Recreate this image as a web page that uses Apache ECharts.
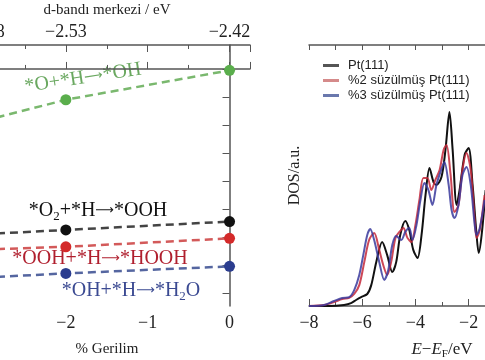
<!DOCTYPE html>
<html><head><meta charset="utf-8">
<script src="https://cdn.jsdelivr.net/npm/echarts@6/dist/echarts.min.js"></script>
<style>html,body{margin:0;padding:0;background:#fff}#c{width:485px;height:360px}</style>
</head><body><div id="c"></div>
<script>
// ---- Left panel data (strain %, reaction energy, arbitrary eV scale) ----
const strain = [-3, -2, 0];
const dBandLabels = ['−2.58', '−2.53', '−2.42'];
const eO_H = [-0.37, -0.22, -0.01];
const eO2_H = [-1.18, -1.15, -1.09];
const eOOH_H = [-1.29, -1.27, -1.21];
const eOH_H = [-1.49, -1.46, -1.41];
const leftYTicks = [-1.6, -1.4, -1.2, -1.0, -0.8, -0.6, -0.4, -0.2, 0.0];

// ---- Right panel data (E - EF, DOS a.u.) ----
const ePt = [-8.00,-7.25,-6.68,-6.42,-6.23,-6.04,-5.81,-5.66,-5.47,-5.25,-5.06,-4.87,-4.72,-4.57,-4.38,-4.23,-4.08,-3.92,-3.77,-3.62,-3.47,-3.32,-3.21,-3.02,-2.87,-2.72,-2.60,-2.45,-2.34,-2.15,-2.00,-1.85,-1.70,-1.62,-1.51,-1.36];
const dosPt = [0,0,0.04,0.11,0.23,0.34,0.46,0.8,1.69,2.45,1.95,1.3,1.69,2.72,3.26,2.91,2.15,1.84,2.72,4.25,5.29,4.75,4.64,4.94,5.98,7.43,5.98,3.87,4.44,5.79,6.05,4.64,2.72,2.03,2.72,4.44];
const eS2 = [-8.00,-7.43,-7.06,-6.75,-6.49,-6.30,-6.11,-5.92,-5.74,-5.55,-5.36,-5.21,-5.06,-4.91,-4.75,-4.60,-4.45,-4.30,-4.15,-4.00,-3.85,-3.70,-3.55,-3.40,-3.25,-3.09,-2.94,-2.83,-2.68,-2.53,-2.38,-2.23,-2.08,-1.92,-1.77,-1.70,-1.58,-1.40];
const dosS2 = [0,0.04,0.15,0.27,0.31,0.46,0.8,1.69,2.53,2.8,2.15,1.57,1.19,1.69,2.61,2.84,2.99,2.61,2.45,3.1,4.06,4.9,4.9,4.44,4.83,5.21,5.98,6.17,5.06,3.6,3.87,5.21,5.86,5.21,3.3,2.61,2.91,4.25];
const eS3 = [-8.00,-7.43,-7.06,-6.75,-6.49,-6.30,-6.11,-5.96,-5.81,-5.70,-5.55,-5.36,-5.17,-5.02,-4.87,-4.72,-4.53,-4.38,-4.23,-4.11,-3.96,-3.81,-3.66,-3.51,-3.36,-3.21,-3.06,-2.91,-2.75,-2.64,-2.53,-2.38,-2.23,-2.08,-1.92,-1.77,-1.70,-1.58,-1.40];
const dosS3 = [0,0.04,0.19,0.31,0.34,0.61,1.19,1.95,2.72,2.95,2.53,1.69,1.0,1.38,2.34,2.68,2.53,2.84,2.99,2.53,3.1,4.06,4.71,4.44,3.87,4.64,5.13,5.52,4.64,3.68,3.37,3.87,5.02,5.33,4.64,3.1,2.72,2.99,4.06];
const legendNames = ['Pt(111)', '%2 süzülmüş Pt(111)', '%3 süzülmüş Pt(111)'];

const serif = "'Liberation Serif','DejaVu Serif',serif";
const sans = "'Liberation Sans',Arial,sans-serif";
const frame = '#555';
const minus = v => (v < 0 ? '−' : '') + Math.abs(v);
const zip = (a, b) => a.map((x, i) => [x, b[i]]);

const chart = echarts.init(document.getElementById('c'), null, {renderer: 'canvas'});

function leftSeries(data, lineColor, dotColor) {
  return {
    type: 'line', xAxisIndex: 0, yAxisIndex: 0,
    data: zip(strain, data), symbol: 'circle', symbolSize: 11,
    itemStyle: {color: dotColor},
    lineStyle: {color: lineColor, width: 2.5, type: [8, 5]},
    z: 3, silent: true, animation: false
  };
}
function dosSeries(name, e, d, color, opacity) {
  return {
    type: 'line', name, xAxisIndex: 2, yAxisIndex: 1,
    data: zip(e, d), showSymbol: false, symbol: 'none', smooth: 0.3,
    lineStyle: {color, width: 2, opacity}, itemStyle: {color},
    silent: true, animation: false
  };
}
function reactionText(x, y, text, color, rot) {
  return {
    type: 'text', x, y, rotation: rot || 0, silent: true,
    style: {
      text: text.replace(/→/g, '{a|⟶}').replace(/_(\d)/g, '{s|$1}'),
      fontFamily: serif, fontSize: 20, fill: color, align: 'center', verticalAlign: 'middle',
      rich: {
        a: {fontFamily: "'DejaVu Sans',sans-serif", fontSize: 13, fill: color},
        s: {fontFamily: serif, fontSize: 13, fill: color, padding: [11, 0, 0, 0]}
      }
    }
  };
}

const option = {
  animation: false,
  grid: [
    {left: -16, top: 45, width: 266, height: 261, outerBoundsMode: 'none', containLabel: false},
    {left: 309, top: 45, width: 266, height: 261, outerBoundsMode: 'none', containLabel: false}
  ],
  xAxis: [
    {gridIndex: 0, type: 'value', position: 'bottom', min: -3, max: 0.25, interval: 1,
     name: '% Gerilim', nameLocation: 'middle', nameGap: 36,
     nameTextStyle: {fontFamily: serif, fontSize: 15, color: '#222', padding: [0, 20, 0, 0]},
     axisLine: {show: true, lineStyle: {color: frame, width: 1.5}},
     axisTick: {show: true, inside: true, length: 7, lineStyle: {color: frame}},
     minorTick: {show: true, splitNumber: 2, length: 4, lineStyle: {color: frame}},
     axisLabel: {fontFamily: serif, fontSize: 18, color: '#222', margin: 8, formatter: minus, showMaxLabel: false},
     splitLine: {show: false}},
    {gridIndex: 0, type: 'value', position: 'top', min: -3, max: 0.25, interval: 1,
     name: 'd-bandı merkezi / eV', nameLocation: 'middle', nameGap: 27,
     nameTextStyle: {fontFamily: serif, fontSize: 15, color: '#222', padding: [0, 20, 0, 0]},
     axisLine: {show: true, lineStyle: {color: frame, width: 1.5}},
     axisTick: {show: true, inside: true, length: 7, lineStyle: {color: frame}},
     minorTick: {show: true, splitNumber: 2, length: 4, lineStyle: {color: frame}},
     axisLabel: {fontFamily: serif, fontSize: 18, color: '#222', margin: 4,
       customValues: strain,
       formatter: v => { const i = strain.indexOf(v); return i >= 0 ? dBandLabels[i] : ''; }},
     splitLine: {show: false}},
    {gridIndex: 1, type: 'value', position: 'bottom', min: -8, max: 2, interval: 2,
     name: '{i|E}−{i|E}{s|F}/eV', nameLocation: 'middle', nameGap: 33,
     nameTextStyle: {fontFamily: serif, fontSize: 17, color: '#222',
       rich: {i: {fontFamily: serif, fontSize: 17, fontStyle: 'italic', color: '#222'},
              s: {fontFamily: serif, fontSize: 11, color: '#222', padding: [10, 0, 0, 0]}}},
     axisLine: {show: true, lineStyle: {color: frame, width: 1.5}},
     axisTick: {show: true, inside: true, length: 7, lineStyle: {color: frame}},
     minorTick: {show: true, splitNumber: 2, length: 4, lineStyle: {color: frame}},
     axisLabel: {fontFamily: serif, fontSize: 18, color: '#222', margin: 8, formatter: minus},
     splitLine: {show: false}},
    {gridIndex: 1, type: 'value', position: 'top', min: -8, max: 2, interval: 2,
     axisLine: {show: true, lineStyle: {color: frame, width: 1.5}},
     axisTick: {show: true, inside: true, length: 5, lineStyle: {color: frame}},
     minorTick: {show: true, splitNumber: 2, length: 5, lineStyle: {color: frame}},
     axisLabel: {show: false}, splitLine: {show: false}}
  ],
  yAxis: [
    {gridIndex: 0, type: 'value', position: 'right', min: -1.693, max: 0.171,
     axisLine: {show: true, lineStyle: {color: frame, width: 1.5}},
     axisTick: {show: true, inside: true, length: 7, customValues: leftYTicks, lineStyle: {color: frame}},
     axisLabel: {show: false}, splitLine: {show: false}},
    {gridIndex: 1, type: 'value', min: 0, max: 10,
     name: 'DOS/a.u.', nameLocation: 'middle', nameGap: 6,
     nameTextStyle: {fontFamily: serif, fontSize: 16, color: '#222'},
     axisLine: {show: true, lineStyle: {color: frame, width: 1.5}},
     axisTick: {show: false}, axisLabel: {show: false}, splitLine: {show: false}}
  ],
  legend: {
    left: 318, top: 54, orient: 'vertical', itemGap: 2, itemWidth: 16, itemHeight: 3,
    icon: 'rect', selectedMode: false,
    textStyle: {fontFamily: sans, fontSize: 13, color: '#222', padding: [0, 0, 0, 4]},
    data: [
      {name: legendNames[0], itemStyle: {color: '#555'}},
      {name: legendNames[1], itemStyle: {color: '#d58a8a'}},
      {name: legendNames[2], itemStyle: {color: '#6a78ad'}}
    ]
  },
  series: [
    leftSeries(eO_H, '#7ab86e', '#5aae4c'),
    leftSeries(eO2_H, '#444', '#111'),
    leftSeries(eOOH_H, '#d35a5a', '#d42a2a'),
    leftSeries(eOH_H, '#5566a0', '#2b3d8f'),
    dosSeries(legendNames[0], ePt, dosPt, '#111', 1),
    dosSeries(legendNames[1], eS2, dosS2, '#c4283a', 0.85),
    dosSeries(legendNames[2], eS3, dosS3, '#3a3a9c', 0.85)
  ],
  graphic: [
    reactionText(83, 78, '*O+*H→*OH', '#6aa860', 0.15),
    reactionText(98, 211, '*O_2+*H→*OOH', '#111'),
    reactionText(100, 259, '*OOH+*H→*HOOH', '#b01f2e'),
    reactionText(131, 291, '*OH+*H→*H_2O', '#3b4a92')
  ]
};
chart.setOption(option);
</script></body></html>
